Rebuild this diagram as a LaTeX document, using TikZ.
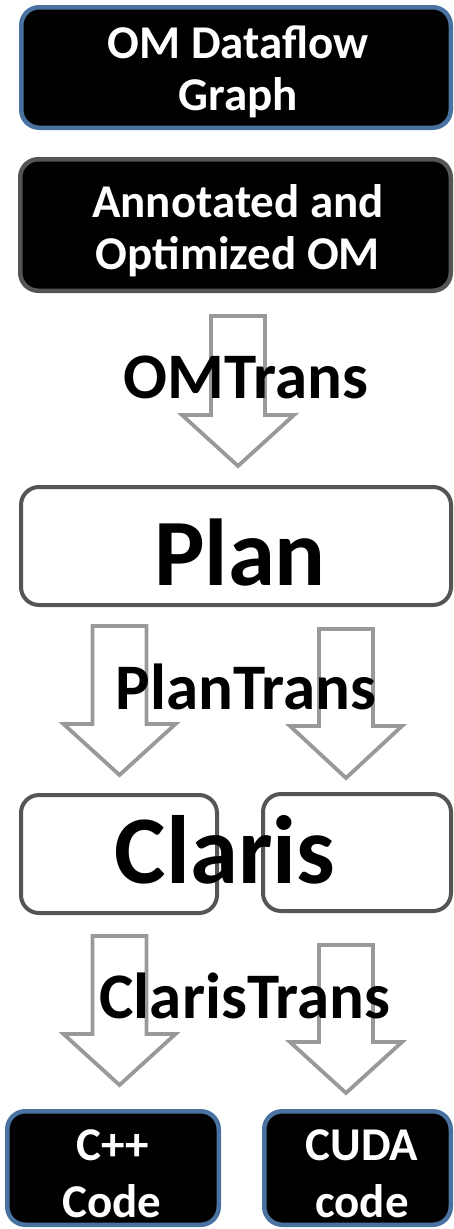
\documentclass[tikz,border=0pt]{standalone}
\usepackage{fontspec}
\setmainfont{Carlito}
\definecolor{edgeblue}{RGB}{74,114,160}
\definecolor{edgegray}{RGB}{85,85,85}
\definecolor{arrowgray}{RGB}{153,153,153}
\tikzset{
  darkbox/.style={draw=edgeblue, fill=black, line width=4.5pt, rounded corners=18pt, inner sep=0pt},
  greybox/.style={draw=edgegray, fill=black, line width=4.5pt, rounded corners=18pt, inner sep=0pt},
  whitebox/.style={draw=edgegray, fill=white, line width=4pt, rounded corners=18pt, inner sep=0pt},
  boxtext/.style={anchor=base, text=white, font=\bfseries\fontsize{47}{52}\selectfont, inner sep=0pt},
  steptext/.style={anchor=base, text=black, font=\bfseries\fontsize{65}{70}\selectfont, inner sep=0pt},
  bigtext/.style={anchor=base, text=black, font=\bfseries\fontsize{95}{100}\selectfont, inner sep=0pt},
  blockarrow/.style={draw=arrowgray, fill=white, line width=3.8pt, line join=miter}
}
% hollow downward block arrow: centre x, top y, neck y, tip y
\newcommand\flowarrow[4]{%
  \draw[blockarrow] ({#1-27},#2) -- ({#1+27},#2) -- ({#1+27},#3) -- ({#1+56},#3)
    -- (#1,#4) -- ({#1-56},#3) -- ({#1-27},#3) -- cycle;}
\begin{document}
\begin{tikzpicture}[x=1pt,y=-1pt]
\useasboundingbox (0,0) rectangle (454,1229);

% source boxes
\node[darkbox, minimum width=429.5pt, minimum height=120.5pt] (graph) at (236,67.5) {};
\node[greybox, minimum width=430.5pt, minimum height=131.5pt] (annot) at (235.5,225) {};
\node[boxtext] (graphA) at (238,58) {OM Dataflow};
\node[boxtext] (graphB) at (238,110) {Graph};
\node[boxtext] (annotA) at (238,217) {Annotated and};
\node[boxtext] (annotB) at (238,269) {Optimized OM};

% OMTrans step
\flowarrow{238}{316}{415}{466}
\node[steptext] (omtrans) at (246,398) {OMTrans};

% Plan
\node[whitebox, minimum width=430pt, minimum height=118pt] (plan) at (236,546) {};
\node[bigtext] (plantext) at (240,585) {Plan};

% PlanTrans step
\flowarrow{119.5}{626}{724}{775}
\flowarrow{346}{629}{726}{778}
\node[steptext] (plantrans) at (246,709) {PlanTrans};

% Claris
\node[whitebox, minimum width=196pt, minimum height=118pt] (clarisL) at (119,854) {};
\node[whitebox, minimum width=188pt, minimum height=117pt] (clarisR) at (357,852.5) {};
\node[bigtext, font=\bfseries\fontsize{97}{100}\selectfont] (claristext) at (225,883) {Claris};

% ClarisTrans step
\flowarrow{119.5}{936}{1034}{1085}
\flowarrow{346}{945}{1042}{1093}
\node[steptext] (claristrans) at (245,1018) {ClarisTrans};

% generated code
\node[darkbox, minimum width=211.5pt, minimum height=113.5pt] (cpp) at (113,1168) {};
\node[darkbox, minimum width=186.5pt, minimum height=113.5pt] (cuda) at (357.5,1168) {};
\node[boxtext] (cppA) at (113,1160) {C++};
\node[boxtext] (cppB) at (112,1217) {Code};
\node[boxtext] (cudaA) at (362,1160) {CUDA};
\node[boxtext] (cudaB) at (362,1217) {code};
\end{tikzpicture}
\end{document}
